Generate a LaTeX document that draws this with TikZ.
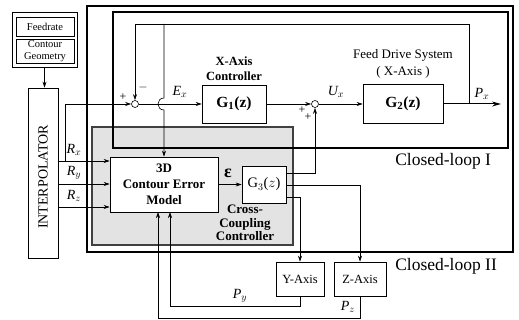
\documentclass[tikz,border=0pt]{standalone}
\usepackage{fontspec}
\setmainfont{Liberation Serif}
\usetikzlibrary{arrows.meta}
\begin{document}
\begin{tikzpicture}[x=1pt,y=-1pt,
  line width=0.6pt,
  arr/.style={-{Stealth[length=6pt,width=4pt]}},
  blk/.style={draw,rectangle,inner sep=0pt,align=center},
  sumj/.style={draw,circle,inner sep=0pt,minimum size=7pt,fill=white},
  lbl/.style={inner sep=0pt,font=\fontsize{14}{14}\selectfont\itshape},
  sgn/.style={inner sep=0pt,font=\fontsize{12}{12}\selectfont}]
\useasboundingbox (0,0) rectangle (519,320);
% regions
\fill[gray!22] (92,127) rectangle (293,245);
\draw[line width=1.2pt,black!75] (92,127) rectangle (293,245);
\draw[line width=1.6pt] (113,12) rectangle (508,148);
\draw[line width=2.6pt] (87,6) rectangle (513,252);
% blocks
\node[blk,line width=0.9pt,minimum width=65pt,minimum height=55pt] (outerFC) at (44.5,39.5) {};
\node[blk,minimum width=58pt,minimum height=19pt,font=\fontsize{10.5}{11}\selectfont] (feed) at (45,26.5) {Feedrate};
\node[blk,minimum width=58pt,minimum height=24pt,font=\fontsize{10.5}{11.5}\selectfont] (geom) at (45,51) {Contour\\Geometry};
\node[blk,minimum width=30pt,minimum height=170pt] (interp) at (43,173) {};
\node[rotate=90,font=\fontsize{14}{14}\selectfont] at (43,177) {INTERPOLATOR};
\node[blk,fill=white,minimum width=108pt,minimum height=55pt,font=\fontsize{13}{16}\selectfont\bfseries] (model) at (164,184.5) {3D\\Contour Error\\Model};
\node[blk,fill=white,minimum width=64pt,minimum height=38pt,font=\fontsize{15.5}{16}\selectfont\bfseries] (G1) at (234,104) {G$_{\mathbf 1}$(z)};
\node[blk,fill=white,minimum width=80pt,minimum height=39pt,font=\fontsize{15.5}{16}\selectfont\bfseries] (G2) at (403,104) {G$_{\mathbf 2}$(z)};
\node[blk,fill=white,minimum width=44pt,minimum height=37pt,font=\fontsize{14.5}{15}\selectfont] (G3) at (264,184.5) {G$_3$($z$)};
\node[blk,fill=white,minimum width=48pt,minimum height=34pt,font=\fontsize{12.5}{13}\selectfont] (Yax) at (300,279) {Y-Axis};
\node[blk,fill=white,minimum width=52pt,minimum height=34pt,font=\fontsize{12.5}{13}\selectfont] (Zax) at (360,279) {Z-Axis};
\node[sumj] (sum1) at (135,104) {};
\node[sumj] (sum2) at (315,104) {};
% texts
\node[align=center,font=\fontsize{12.5}{15}\selectfont\bfseries] (xc) at (234,68.5) {X-Axis\\Controller};
\node[align=center,font=\fontsize{13}{16.5}\selectfont] (fds) at (403,64) {Feed Drive System\\( X-Axis )};
\node[align=center,font=\fontsize{13}{13.5}\selectfont\bfseries] (ccc) at (245,223) {Cross-\\Coupling\\Controller};
\node[anchor=west,inner sep=0pt,font=\fontsize{17.5}{18}\selectfont] (cl1) at (395,161) {Closed-loop I};
\node[anchor=west,inner sep=0pt,font=\fontsize{17.5}{18}\selectfont] (cl2) at (395,266) {Closed-loop II};
% coordinates
\coordinate (Rx) at (58,161);
\coordinate (Ry) at (58,184);
\coordinate (Rz) at (58,207);
\coordinate (bx) at (65,161);
\coordinate (fbR) at (469,104);
\coordinate (fbT) at (469,24);
\coordinate (tap) at (164,24);
\coordinate (hopA) at (164,98);
\coordinate (hopB) at (164,110);
\coordinate (pxend) at (501,104);
\coordinate (g3a) at (286,173);
\coordinate (g3b) at (286,185);
\coordinate (g3c) at (286,197);
\coordinate (mPy) at (170,212);
\coordinate (mPz) at (158,212);
\coordinate (pyc) at (300,306);
\coordinate (pzc) at (360,318);
% connectors
\draw[arr] (outerFC.south) -- (outerFC.south |- interp.north);
\draw[arr] (Rx) -- (Rx -| model.west);
\draw[arr] (Ry) -- (Ry -| model.west);
\draw[arr] (Rz) -- (Rz -| model.west);
\draw[arr] (bx) |- (sum1.west);
\draw[arr] (fbR) -- (fbT) -| (sum1.north);
\draw[arr] (tap) -- (hopA) .. controls (156,98) and (156,110) .. (hopB) -- (model.north);
\draw[arr] (sum1.east) -- (G1.west);
\draw[arr] (G1.east) -- (sum2.west);
\draw[arr] (sum2.east) -- (G2.west);
\draw[-{Stealth[length=9pt,width=5pt]},line width=1pt] (G2.east) -- (pxend);
\draw[arr] (model.east) -- (G3.west);
\draw[arr] (g3a) -| (sum2.south);
\draw[arr] (g3b) -| (Zax.north);
\draw[arr] (g3c) -| (Yax.north);
\draw[arr] (Yax.south) -- (pyc) -| (mPy);
\draw[arr] (Zax.south) -- (pzc) -| (mPz);
% labels
\node[lbl] at (74,150) {R$_x$};
\node[lbl] at (74,173) {R$_y$};
\node[lbl] at (74,196) {R$_z$};
\node[lbl] at (180,92) {E$_x$};
\node[lbl] at (336,92) {U$_x$};
\node[lbl] at (482,94) {P$_x$};
\node[lbl] at (240,296) {P$_y$};
\node[lbl] at (348,307) {P$_z$};
\node[inner sep=0pt,font=\fontsize{18}{18}\selectfont\bfseries] at (228,173) {ε};
\node[sgn] at (123,97) {+};
\node[sgn] at (143,88) {$-$};
\node[sgn] at (302,110) {+};
\node[sgn] at (308,117) {+};
\end{tikzpicture}
\end{document}
